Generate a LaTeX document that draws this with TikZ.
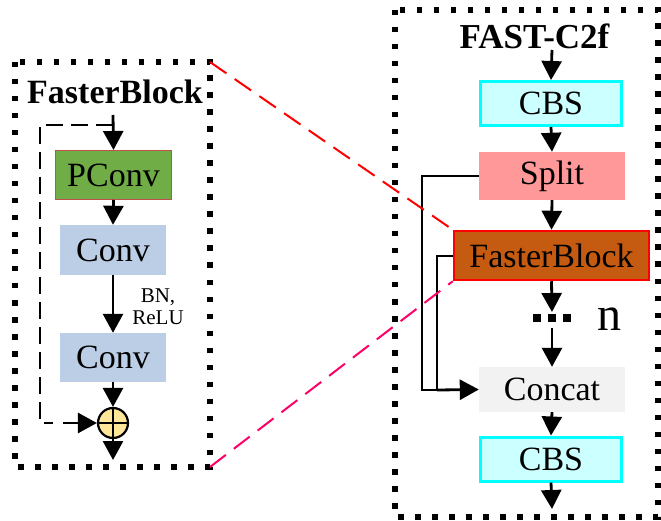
\documentclass[tikz,border=0pt]{standalone}
\usepackage{fontspec}
\setmainfont{Liberation Serif}
\usetikzlibrary{arrows.meta}
\definecolor{pgreen}{RGB}{112,173,71}
\definecolor{pborder}{RGB}{192,80,77}
\definecolor{cblue}{RGB}{188,206,230}
\definecolor{plusfill}{RGB}{255,230,153}
\definecolor{cbsfill}{RGB}{204,255,255}
\definecolor{cbsline}{RGB}{0,255,255}
\definecolor{splitfill}{RGB}{255,153,153}
\definecolor{fbfill}{RGB}{197,90,17}
\definecolor{catfill}{RGB}{242,242,242}
\definecolor{pinkline}{RGB}{255,0,102}
\begin{document}
\begin{tikzpicture}[x=1pt,y=-1pt,
  blk/.style={inner sep=0pt, font=\fontsize{34}{34}\selectfont},
  arr/.style={line width=2.8pt,-{Triangle[width=20pt,length=19pt]}},
  ln/.style={line width=2.8pt},
  dotbox/.style={line width=5.5pt, dash pattern=on 5.5pt off 11.5pt},
  cbsbox/.style={blk, fill=cbsfill, draw=cbsline, line width=3pt, minimum width=141pt, minimum height=44pt},
  zoomline/.style={line width=2pt, dash pattern=on 20pt off 10pt}
]
\useasboundingbox (0,0) rectangle (661,521);
% boxes
\draw[dotbox] (15,62) rectangle (210,467);
\draw[dotbox] (395,10) rectangle (658,517);
% left FasterBlock
\node[font=\bfseries\fontsize{34}{34}\selectfont] (lt) at (115,92) {FasterBlock};
\node[blk, fill=pgreen, draw=pborder, line width=1pt, minimum width=116pt, minimum height=49pt] (pconv) at (113.5,175) {PConv};
\node[blk, fill=cblue, minimum width=106pt, minimum height=50pt] (conv1) at (113,250) {Conv};
\node[blk, fill=cblue, minimum width=106pt, minimum height=49pt] (conv2) at (113,357.5) {Conv};
\node[circle, fill=plusfill, draw=black, line width=2.2pt, minimum size=30pt, inner sep=0pt] (plus) at (113,423) {};
\draw[line width=2.2pt] (plus.north) -- (plus.south) (plus.west) -- (plus.east);
\node[align=center, font=\fontsize{21}{22}\selectfont, inner sep=0pt] (bn) at (158,307) {BN,\\ReLU};
\coordinate (ltop) at (113,115);
\coordinate (lcorner) at (113,125);
\coordinate (lout) at (113,460);
\coordinate (dl1) at (40,125);
\coordinate (dl2) at (40,423);
\coordinate (dl3) at (53,423);
\coordinate (dl4) at (63,423);
\draw[arr] (ltop) -- (pconv.north);
\draw[arr] (pconv.south) -- (conv1.north);
\draw[arr] (conv1.south) -- (conv2.north);
\draw[arr] (conv2.south) -- (plus.north);
\draw[arr] (plus.south) -- (lout);
\draw[line width=2.2pt, dash pattern=on 17pt off 8pt] (lcorner) -- (dl1) -- (dl2) -- (dl3);
\draw[arr] (dl4) -- (plus.west);
% right FAST-C2f
\node[font=\bfseries\fontsize{35}{35}\selectfont] (rt) at (534.5,36) {FAST-C2f};
\node[cbsbox] (cbs1) at (551,103.5) {CBS};
\node[blk, fill=splitfill, minimum width=146pt, minimum height=48pt] (split) at (552,176) {Split};
\node[blk, fill=fbfill, draw=red, line width=2.5pt, minimum width=195pt, minimum height=49pt] (fb) at (551.5,255.5) {FasterBlock};
\node[blk, fill=catfill, minimum width=146pt, minimum height=45pt] (concat) at (552,389.5) {Concat};
\node[cbsbox] (cbs2) at (551,459) {CBS};
\node[inner sep=0pt, font=\fontsize{48}{48}\selectfont] (n) at (609,319) {n};
\foreach \xx in {537,552,567} \fill (\xx-4,314) rectangle (\xx+4,322);
\coordinate (rtop) at (552,50);
\coordinate (d1) at (552,312);
\coordinate (d2) at (552,328);
\coordinate (rout) at (552,509);
\draw[arr] (rtop) -- (cbs1.north);
\draw[arr] (cbs1.south) -- (split.north);
\draw[arr] (split.south) -- (fb.north);
\draw[arr] (fb.south) -- (d1);
\draw[arr] (d2) -- (concat.north);
\draw[arr] (concat.south) -- (cbs2.north);
\draw[arr] (cbs2.south) -- (rout);
\coordinate (s1) at (422,176);
\coordinate (s2) at (422,390);
\coordinate (f0) at (453,256);
\coordinate (f1) at (437,256);
\coordinate (f2) at (437,390);
\draw[ln] (split.west) -- (s1) -- (s2) -- (f2);
\draw[arr] (f2) -- (concat.west);
\draw[ln] (f0) -- (f1) -- (f2);
% zoom lines
\coordinate (zl1) at (210,62);
\coordinate (zl2) at (210,467);
\draw[zoomline, red] (zl1) -- (fb.north west);
\draw[zoomline, pinkline] (zl2) -- (fb.south west);
\end{tikzpicture}
\end{document}
